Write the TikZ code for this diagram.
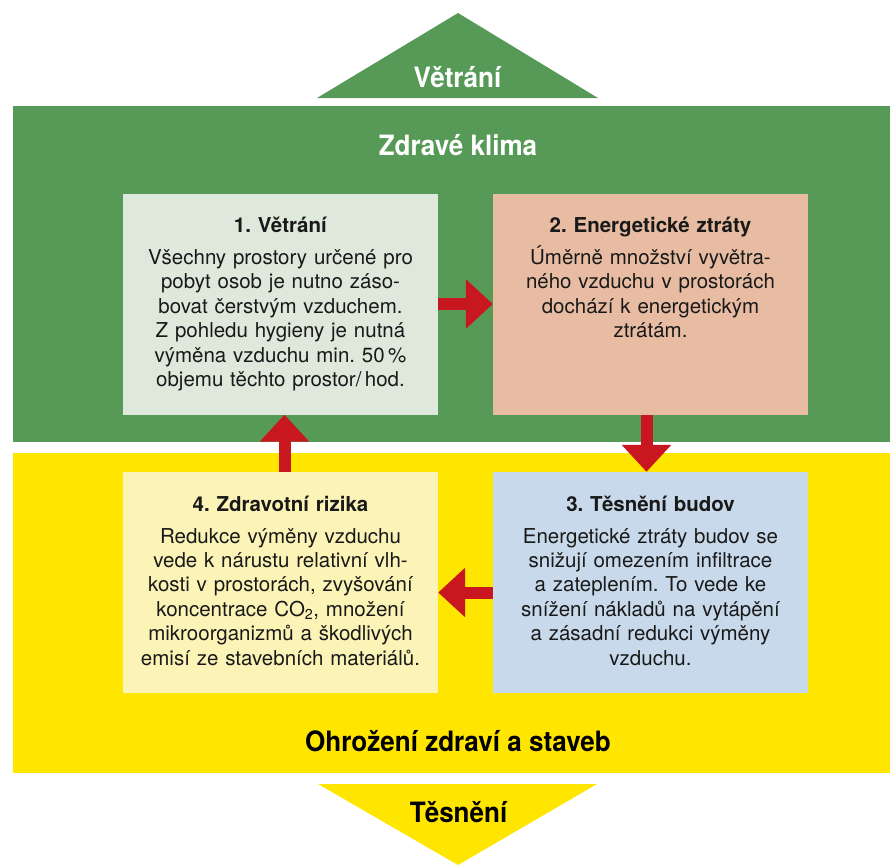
\documentclass[tikz,border=0pt]{standalone}
\usepackage{fontspec}
\setmainfont{TeX Gyre Heros}
\newfontfamily\headfont[FakeStretch=0.93]{TeX Gyre Heros}
\usetikzlibrary{positioning,arrows.meta}
\frenchspacing

\definecolor{klimagreen}{HTML}{579A57}
\definecolor{rizikoyellow}{HTML}{FFE600}
\definecolor{vetranibox}{HTML}{DEE9DC}
\definecolor{ztratybox}{HTML}{E8BCA3}
\definecolor{tesnenibox}{HTML}{C8D9EB}
\definecolor{rizikabox}{HTML}{FCF4B6}
\definecolor{arrowred}{HTML}{C8171F}

\begin{document}
\begin{tikzpicture}[
    x=1pt,y=-1pt,
    band/.style={minimum width=877pt,inner sep=0pt},
    box/.style={minimum width=315pt,minimum height=221pt,inner sep=0pt},
    boxtext/.style={text width=310pt,align=center,inner sep=0pt,text=black!90,
        font=\fontsize{20.5}{24.4}\selectfont},
    heading/.style={font=\headfont\bfseries\fontsize{28}{32}\selectfont,anchor=base},
    flow/.style={line width=12pt,draw=arrowred,-{Triangle[length=27pt 0 0,width=48pt 0 0]}}
]
\useasboundingbox (0,0) rectangle (890,865);

\node[band,fill=klimagreen,minimum height=336pt] (klima) at (451.5,274) {};
\node[band,fill=rizikoyellow,minimum height=320pt] (ohrozeni) at (451.5,613) {};

\fill[klimagreen] (317,98) -- (458,13) -- (598,98) -- cycle;
\fill[rizikoyellow] (318,784) -- (458,865) -- (597,784) -- cycle;

\node[heading,text=white] (vetranilabel) at (457.5,87) {Větrání};
\node[heading,text=white] (klimalabel) at (458,155) {Zdravé klima};
\node[heading] (ohrozenilabel) at (458,751) {Ohrožení zdraví a staveb};
\node[heading] (tesnenilabel) at (458.5,822) {Těsnění};

\node[box,fill=vetranibox] (b1) at (280.5,304) {};
\node[box,fill=ztratybox] (b2) at (650.5,304) {};
\node[box,fill=tesnenibox] (b3) at (650.5,582.5) {};
\node[box,fill=rizikabox] (b4) at (280.5,582.5) {};

\node[boxtext,below=21pt of b1.north] (t1) {\rule{0pt}{18pt}\textbf{1. Větrání}\\[7.6pt]
    Všechny prostory určené pro\\ pobyt osob je nutno záso-\\ bovat čerstvým vzduchem.\\
    Z pohledu hygieny je nutná\\ výměna vzduchu min. 50\,\%\\ objemu těchto prostor/\,hod.};
\node[boxtext,below=21pt of b2.north] (t2) {\rule{0pt}{18pt}\textbf{2. Energetické ztráty}\\[7.6pt]
    Úměrně množství vyvětra-\\ ného vzduchu v prostorách\\ dochází k energetickým\\ ztrátám.};
\node[boxtext,below=21pt of b3.north] (t3) {\rule{0pt}{18pt}\textbf{3. Těsnění budov}\\[7.6pt]
    Energetické ztráty budov se\\ snižují omezením infiltrace\\ a zateplením. To vede ke\\
    snížení nákladů na vytápění\\ a zásadní redukci výměny\\ vzduchu.};
\node[boxtext,below=21pt of b4.north] (t4) {\rule{0pt}{18pt}\textbf{4. Zdravotní rizika}\\[7.6pt]
    Redukce výměny vzduchu\\ vede k nárustu relativní vlh-\\ kosti v prostorách, zvyšování\\
    koncentrace CO\textsubscript{2}, množení\\ mikroorganizmů a škodlivých\\ emisí ze stavebních materiálů.};

\draw[flow] (b1.east) -- (b2.west);
\draw[flow] ([xshift=-4pt]b2.south) -- ([xshift=-4pt]b3.north);
\draw[flow] ([yshift=-10pt]b3.west) -- ([yshift=-10pt]b4.east);
\draw[flow] ([xshift=4pt]b4.north) -- ([xshift=4pt]b1.south);

\end{tikzpicture}
\end{document}
